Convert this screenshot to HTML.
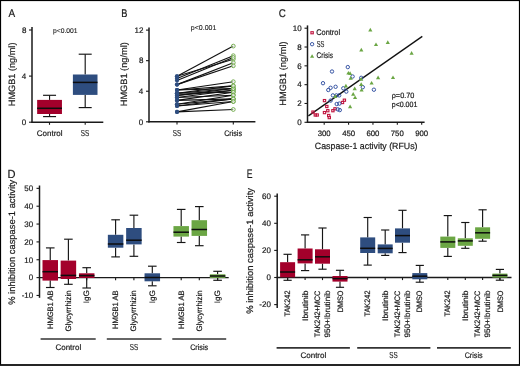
<!DOCTYPE html>
<html><head><meta charset="utf-8"><style>
html,body{margin:0;padding:0;background:#fff;}
body{width:520px;height:366px;overflow:hidden;}
svg{display:block;will-change:transform;}
text{font-family:"Liberation Sans", sans-serif;text-rendering:geometricPrecision;stroke:#1a1a1a;stroke-width:0.2px;}
</style></head><body>
<svg width="520" height="366" viewBox="0 0 520 366">
<rect x="0" y="0" width="520" height="366" fill="#fff"/>
<text x="8.48" y="17.10" font-size="11.2" fill="#1a1a1a" textLength="6.64" lengthAdjust="spacingAndGlyphs">A</text>
<line x1="32.00" y1="27.10" x2="32.00" y2="122.80" stroke="#1a1a1a" stroke-width="1.5"/>
<line x1="29.00" y1="30.00" x2="32.00" y2="30.00" stroke="#1a1a1a" stroke-width="1.1"/>
<text x="21.90" y="32.80" font-size="8" fill="#1a1a1a" textLength="4.45" lengthAdjust="spacingAndGlyphs">8</text>
<line x1="29.00" y1="76.10" x2="32.00" y2="76.10" stroke="#1a1a1a" stroke-width="1.1"/>
<text x="21.78" y="78.90" font-size="8" fill="#1a1a1a" textLength="4.45" lengthAdjust="spacingAndGlyphs">4</text>
<line x1="29.00" y1="122.20" x2="32.00" y2="122.20" stroke="#1a1a1a" stroke-width="1.1"/>
<text x="21.86" y="125.00" font-size="8" fill="#1a1a1a" textLength="4.45" lengthAdjust="spacingAndGlyphs">0</text>
<line x1="31.40" y1="122.20" x2="103.30" y2="122.20" stroke="#1a1a1a" stroke-width="1.5"/>
<line x1="49.50" y1="122.20" x2="49.50" y2="124.80" stroke="#1a1a1a" stroke-width="1.1"/>
<line x1="85.20" y1="122.20" x2="85.20" y2="124.80" stroke="#1a1a1a" stroke-width="1.1"/>
<line x1="49.55" y1="95.30" x2="49.55" y2="99.90" stroke="#151515" stroke-width="1.15"/>
<line x1="49.55" y1="114.00" x2="49.55" y2="116.60" stroke="#151515" stroke-width="1.15"/>
<line x1="43.05" y1="95.30" x2="56.05" y2="95.30" stroke="#151515" stroke-width="1.15"/>
<line x1="43.05" y1="116.60" x2="56.05" y2="116.60" stroke="#151515" stroke-width="1.15"/>
<rect x="37.15" y="99.90" width="24.80" height="14.10" fill="#a3002b"/>
<line x1="37.15" y1="108.30" x2="61.95" y2="108.30" stroke="#0d0d0d" stroke-width="1.5"/>
<line x1="85.20" y1="54.20" x2="85.20" y2="74.50" stroke="#151515" stroke-width="1.15"/>
<line x1="85.20" y1="94.90" x2="85.20" y2="107.60" stroke="#151515" stroke-width="1.15"/>
<line x1="78.70" y1="54.20" x2="91.70" y2="54.20" stroke="#151515" stroke-width="1.15"/>
<line x1="78.70" y1="107.60" x2="91.70" y2="107.60" stroke="#151515" stroke-width="1.15"/>
<rect x="72.90" y="74.50" width="24.60" height="20.40" fill="#2e4d7f"/>
<line x1="72.90" y1="82.40" x2="97.50" y2="82.40" stroke="#0d0d0d" stroke-width="1.5"/>
<text x="53.06" y="32.60" font-size="6.9" fill="#1a1a1a" textLength="24.47" lengthAdjust="spacingAndGlyphs" style="stroke-width:0.12px">p&lt;0.001</text>
<text transform="translate(15.30,106.25) rotate(-90)" x="0" y="0" font-size="9.2" fill="#1a1a1a" textLength="63.72" lengthAdjust="spacingAndGlyphs">HMGB1 (ng/ml)</text>
<text x="36.79" y="135.50" font-size="8" fill="#1a1a1a" textLength="25.75" lengthAdjust="spacingAndGlyphs">Control</text>
<text x="80.81" y="135.60" font-size="8.7" fill="#1a1a1a" textLength="8.49" lengthAdjust="spacingAndGlyphs" style="stroke-width:0.12px">SS</text>
<text x="121.34" y="17.10" font-size="11.2" fill="#1a1a1a" textLength="6.14" lengthAdjust="spacingAndGlyphs">B</text>
<line x1="149.00" y1="27.40" x2="149.00" y2="122.40" stroke="#1a1a1a" stroke-width="1.5"/>
<line x1="146.00" y1="121.80" x2="149.00" y2="121.80" stroke="#1a1a1a" stroke-width="1.1"/>
<text x="138.86" y="124.60" font-size="8" fill="#1a1a1a" textLength="4.45" lengthAdjust="spacingAndGlyphs">0</text>
<line x1="146.00" y1="91.23" x2="149.00" y2="91.23" stroke="#1a1a1a" stroke-width="1.1"/>
<text x="138.78" y="94.03" font-size="8" fill="#1a1a1a" textLength="4.45" lengthAdjust="spacingAndGlyphs">4</text>
<line x1="146.00" y1="60.67" x2="149.00" y2="60.67" stroke="#1a1a1a" stroke-width="1.1"/>
<text x="138.90" y="63.47" font-size="8" fill="#1a1a1a" textLength="4.45" lengthAdjust="spacingAndGlyphs">8</text>
<line x1="146.00" y1="30.10" x2="149.00" y2="30.10" stroke="#1a1a1a" stroke-width="1.1"/>
<text x="134.50" y="32.90" font-size="8" fill="#1a1a1a" textLength="8.90" lengthAdjust="spacingAndGlyphs">12</text>
<line x1="148.40" y1="121.80" x2="255.40" y2="121.80" stroke="#1a1a1a" stroke-width="1.5"/>
<line x1="177.00" y1="121.80" x2="177.00" y2="124.40" stroke="#1a1a1a" stroke-width="1.1"/>
<line x1="233.30" y1="121.80" x2="233.30" y2="124.40" stroke="#1a1a1a" stroke-width="1.1"/>
<line x1="177.00" y1="76.30" x2="233.30" y2="46.10" stroke="#111" stroke-width="1.15"/>
<line x1="177.00" y1="76.30" x2="233.30" y2="59.20" stroke="#111" stroke-width="1.15"/>
<line x1="177.00" y1="78.50" x2="233.30" y2="55.70" stroke="#111" stroke-width="1.15"/>
<line x1="177.00" y1="80.50" x2="233.30" y2="57.50" stroke="#111" stroke-width="1.15"/>
<line x1="177.00" y1="84.60" x2="233.30" y2="62.70" stroke="#111" stroke-width="1.15"/>
<line x1="177.00" y1="84.60" x2="233.30" y2="65.80" stroke="#111" stroke-width="1.15"/>
<line x1="177.00" y1="90.00" x2="233.30" y2="81.70" stroke="#111" stroke-width="1.15"/>
<line x1="177.00" y1="90.00" x2="233.30" y2="88.50" stroke="#111" stroke-width="1.15"/>
<line x1="177.00" y1="93.20" x2="233.30" y2="85.90" stroke="#111" stroke-width="1.15"/>
<line x1="177.00" y1="93.20" x2="233.30" y2="92.20" stroke="#111" stroke-width="1.15"/>
<line x1="177.00" y1="95.40" x2="233.30" y2="88.50" stroke="#111" stroke-width="1.15"/>
<line x1="177.00" y1="95.40" x2="233.30" y2="90.30" stroke="#111" stroke-width="1.15"/>
<line x1="177.00" y1="97.50" x2="233.30" y2="90.30" stroke="#111" stroke-width="1.15"/>
<line x1="177.00" y1="97.50" x2="233.30" y2="95.20" stroke="#111" stroke-width="1.15"/>
<line x1="177.00" y1="100.40" x2="233.30" y2="92.20" stroke="#111" stroke-width="1.15"/>
<line x1="177.00" y1="100.40" x2="233.30" y2="98.90" stroke="#111" stroke-width="1.15"/>
<line x1="177.00" y1="104.30" x2="233.30" y2="98.90" stroke="#111" stroke-width="1.15"/>
<line x1="177.00" y1="104.30" x2="233.30" y2="95.20" stroke="#111" stroke-width="1.15"/>
<line x1="177.00" y1="106.00" x2="233.30" y2="101.50" stroke="#111" stroke-width="1.15"/>
<line x1="177.00" y1="106.00" x2="233.30" y2="98.90" stroke="#111" stroke-width="1.15"/>
<line x1="177.00" y1="111.90" x2="233.30" y2="109.50" stroke="#111" stroke-width="1.15"/>
<line x1="177.00" y1="111.90" x2="233.30" y2="101.50" stroke="#111" stroke-width="1.15"/>
<line x1="177.00" y1="93.20" x2="233.30" y2="88.50" stroke="#111" stroke-width="1.15"/>
<line x1="177.00" y1="90.00" x2="233.30" y2="85.90" stroke="#111" stroke-width="1.15"/>
<circle cx="177" cy="76.3" r="2.05" fill="#2e4d7f"/>
<circle cx="177" cy="76.3" r="2.05" fill="#2e4d7f"/>
<circle cx="177" cy="78.5" r="2.05" fill="#2e4d7f"/>
<circle cx="177" cy="80.5" r="2.05" fill="#2e4d7f"/>
<circle cx="177" cy="84.6" r="2.05" fill="#2e4d7f"/>
<circle cx="177" cy="84.6" r="2.05" fill="#2e4d7f"/>
<circle cx="177" cy="90.0" r="2.05" fill="#2e4d7f"/>
<circle cx="177" cy="90.0" r="2.05" fill="#2e4d7f"/>
<circle cx="177" cy="93.2" r="2.05" fill="#2e4d7f"/>
<circle cx="177" cy="93.2" r="2.05" fill="#2e4d7f"/>
<circle cx="177" cy="95.4" r="2.05" fill="#2e4d7f"/>
<circle cx="177" cy="95.4" r="2.05" fill="#2e4d7f"/>
<circle cx="177" cy="97.5" r="2.05" fill="#2e4d7f"/>
<circle cx="177" cy="97.5" r="2.05" fill="#2e4d7f"/>
<circle cx="177" cy="100.4" r="2.05" fill="#2e4d7f"/>
<circle cx="177" cy="100.4" r="2.05" fill="#2e4d7f"/>
<circle cx="177" cy="104.3" r="2.05" fill="#2e4d7f"/>
<circle cx="177" cy="104.3" r="2.05" fill="#2e4d7f"/>
<circle cx="177" cy="106.0" r="2.05" fill="#2e4d7f"/>
<circle cx="177" cy="106.0" r="2.05" fill="#2e4d7f"/>
<circle cx="177" cy="111.9" r="2.05" fill="#2e4d7f"/>
<circle cx="177" cy="111.9" r="2.05" fill="#2e4d7f"/>
<circle cx="177" cy="93.2" r="2.05" fill="#2e4d7f"/>
<circle cx="177" cy="90.0" r="2.05" fill="#2e4d7f"/>
<circle cx="233.3" cy="46.1" r="1.9" fill="#fff" fill-opacity="0.5" stroke="#6ba644" stroke-width="0.9"/>
<circle cx="233.3" cy="59.2" r="1.9" fill="#fff" fill-opacity="0.5" stroke="#6ba644" stroke-width="0.9"/>
<circle cx="233.3" cy="55.7" r="1.9" fill="#fff" fill-opacity="0.5" stroke="#6ba644" stroke-width="0.9"/>
<circle cx="233.3" cy="57.5" r="1.9" fill="#fff" fill-opacity="0.5" stroke="#6ba644" stroke-width="0.9"/>
<circle cx="233.3" cy="62.7" r="1.9" fill="#fff" fill-opacity="0.5" stroke="#6ba644" stroke-width="0.9"/>
<circle cx="233.3" cy="65.8" r="1.9" fill="#fff" fill-opacity="0.5" stroke="#6ba644" stroke-width="0.9"/>
<circle cx="233.3" cy="81.7" r="1.9" fill="#fff" fill-opacity="0.5" stroke="#6ba644" stroke-width="0.9"/>
<circle cx="233.3" cy="88.5" r="1.9" fill="#fff" fill-opacity="0.5" stroke="#6ba644" stroke-width="0.9"/>
<circle cx="233.3" cy="85.9" r="1.9" fill="#fff" fill-opacity="0.5" stroke="#6ba644" stroke-width="0.9"/>
<circle cx="233.3" cy="92.2" r="1.9" fill="#fff" fill-opacity="0.5" stroke="#6ba644" stroke-width="0.9"/>
<circle cx="233.3" cy="88.5" r="1.9" fill="#fff" fill-opacity="0.5" stroke="#6ba644" stroke-width="0.9"/>
<circle cx="233.3" cy="90.3" r="1.9" fill="#fff" fill-opacity="0.5" stroke="#6ba644" stroke-width="0.9"/>
<circle cx="233.3" cy="90.3" r="1.9" fill="#fff" fill-opacity="0.5" stroke="#6ba644" stroke-width="0.9"/>
<circle cx="233.3" cy="95.2" r="1.9" fill="#fff" fill-opacity="0.5" stroke="#6ba644" stroke-width="0.9"/>
<circle cx="233.3" cy="92.2" r="1.9" fill="#fff" fill-opacity="0.5" stroke="#6ba644" stroke-width="0.9"/>
<circle cx="233.3" cy="98.9" r="1.9" fill="#fff" fill-opacity="0.5" stroke="#6ba644" stroke-width="0.9"/>
<circle cx="233.3" cy="98.9" r="1.9" fill="#fff" fill-opacity="0.5" stroke="#6ba644" stroke-width="0.9"/>
<circle cx="233.3" cy="95.2" r="1.9" fill="#fff" fill-opacity="0.5" stroke="#6ba644" stroke-width="0.9"/>
<circle cx="233.3" cy="101.5" r="1.9" fill="#fff" fill-opacity="0.5" stroke="#6ba644" stroke-width="0.9"/>
<circle cx="233.3" cy="98.9" r="1.9" fill="#fff" fill-opacity="0.5" stroke="#6ba644" stroke-width="0.9"/>
<circle cx="233.3" cy="109.5" r="1.9" fill="#fff" fill-opacity="0.5" stroke="#6ba644" stroke-width="0.9"/>
<circle cx="233.3" cy="101.5" r="1.9" fill="#fff" fill-opacity="0.5" stroke="#6ba644" stroke-width="0.9"/>
<circle cx="233.3" cy="88.5" r="1.9" fill="#fff" fill-opacity="0.5" stroke="#6ba644" stroke-width="0.9"/>
<circle cx="233.3" cy="85.9" r="1.9" fill="#fff" fill-opacity="0.5" stroke="#6ba644" stroke-width="0.9"/>
<text x="190.84" y="30.00" font-size="7.0" fill="#1a1a1a" textLength="25.50" lengthAdjust="spacingAndGlyphs" style="stroke-width:0.12px">p&lt;0.001</text>
<text transform="translate(127.40,106.26) rotate(-90)" x="0" y="0" font-size="9.2" fill="#1a1a1a" textLength="64.03" lengthAdjust="spacingAndGlyphs">HMGB1 (ng/ml)</text>
<text x="172.81" y="135.60" font-size="8.7" fill="#1a1a1a" textLength="8.49" lengthAdjust="spacingAndGlyphs" style="stroke-width:0.12px">SS</text>
<text x="224.13" y="135.80" font-size="8" fill="#1a1a1a" textLength="17.92" lengthAdjust="spacingAndGlyphs">Crisis</text>
<text x="278.80" y="17.20" font-size="11.2" fill="#1a1a1a" textLength="7.07" lengthAdjust="spacingAndGlyphs">C</text>
<line x1="307.50" y1="25.40" x2="307.50" y2="122.90" stroke="#1a1a1a" stroke-width="1.5"/>
<line x1="304.50" y1="122.30" x2="307.50" y2="122.30" stroke="#1a1a1a" stroke-width="1.1"/>
<text x="297.26" y="125.10" font-size="8" fill="#1a1a1a" textLength="4.45" lengthAdjust="spacingAndGlyphs">0</text>
<line x1="304.50" y1="103.48" x2="307.50" y2="103.48" stroke="#1a1a1a" stroke-width="1.1"/>
<text x="297.35" y="106.28" font-size="8" fill="#1a1a1a" textLength="4.45" lengthAdjust="spacingAndGlyphs">2</text>
<line x1="304.50" y1="84.66" x2="307.50" y2="84.66" stroke="#1a1a1a" stroke-width="1.1"/>
<text x="297.18" y="87.46" font-size="8" fill="#1a1a1a" textLength="4.45" lengthAdjust="spacingAndGlyphs">4</text>
<line x1="304.50" y1="65.84" x2="307.50" y2="65.84" stroke="#1a1a1a" stroke-width="1.1"/>
<text x="297.30" y="68.64" font-size="8" fill="#1a1a1a" textLength="4.45" lengthAdjust="spacingAndGlyphs">6</text>
<line x1="304.50" y1="47.02" x2="307.50" y2="47.02" stroke="#1a1a1a" stroke-width="1.1"/>
<text x="297.30" y="49.82" font-size="8" fill="#1a1a1a" textLength="4.45" lengthAdjust="spacingAndGlyphs">8</text>
<line x1="304.50" y1="28.20" x2="307.50" y2="28.20" stroke="#1a1a1a" stroke-width="1.1"/>
<text x="292.82" y="31.00" font-size="8" fill="#1a1a1a" textLength="8.90" lengthAdjust="spacingAndGlyphs">10</text>
<line x1="306.90" y1="122.30" x2="424.60" y2="122.30" stroke="#1a1a1a" stroke-width="1.5"/>
<line x1="324.20" y1="122.30" x2="324.20" y2="124.80" stroke="#1a1a1a" stroke-width="1.1"/>
<text x="317.70" y="135.50" font-size="7.8" fill="#1a1a1a" textLength="13.01" lengthAdjust="spacingAndGlyphs">300</text>
<line x1="348.57" y1="122.30" x2="348.57" y2="124.80" stroke="#1a1a1a" stroke-width="1.1"/>
<text x="342.13" y="135.50" font-size="7.8" fill="#1a1a1a" textLength="13.01" lengthAdjust="spacingAndGlyphs">450</text>
<line x1="372.95" y1="122.30" x2="372.95" y2="124.80" stroke="#1a1a1a" stroke-width="1.1"/>
<text x="366.40" y="135.50" font-size="7.8" fill="#1a1a1a" textLength="13.01" lengthAdjust="spacingAndGlyphs">600</text>
<line x1="397.32" y1="122.30" x2="397.32" y2="124.80" stroke="#1a1a1a" stroke-width="1.1"/>
<text x="390.77" y="135.50" font-size="7.8" fill="#1a1a1a" textLength="13.01" lengthAdjust="spacingAndGlyphs">750</text>
<line x1="421.70" y1="122.30" x2="421.70" y2="124.80" stroke="#1a1a1a" stroke-width="1.1"/>
<text x="415.16" y="135.50" font-size="7.8" fill="#1a1a1a" textLength="13.01" lengthAdjust="spacingAndGlyphs">900</text>
<text x="314.85" y="148.60" font-size="9.1" fill="#1a1a1a" textLength="102.69" lengthAdjust="spacingAndGlyphs">Caspase-1 activity (RFUs)</text>
<text transform="translate(285.80,105.76) rotate(-90)" x="0" y="0" font-size="9.2" fill="#1a1a1a" textLength="64.34" lengthAdjust="spacingAndGlyphs">HMGB1 (ng/ml)</text>
<line x1="308.40" y1="115.90" x2="422.30" y2="36.40" stroke="#111" stroke-width="1.3"/>
<rect x="323.35" y="99.50" width="2.3" height="2.2" fill="none" stroke="#c0143f" stroke-width="1.1"/>
<rect x="325.65" y="105.40" width="2.3" height="2.2" fill="none" stroke="#c0143f" stroke-width="1.1"/>
<rect x="326.65" y="109.60" width="2.3" height="2.2" fill="none" stroke="#c0143f" stroke-width="1.1"/>
<rect x="323.35" y="111.50" width="2.3" height="2.2" fill="none" stroke="#c0143f" stroke-width="1.1"/>
<rect x="331.75" y="109.60" width="2.3" height="2.2" fill="none" stroke="#c0143f" stroke-width="1.1"/>
<rect x="333.85" y="107.70" width="2.3" height="2.2" fill="none" stroke="#c0143f" stroke-width="1.1"/>
<rect x="341.35" y="101.40" width="2.3" height="2.2" fill="none" stroke="#c0143f" stroke-width="1.1"/>
<rect x="343.25" y="99.10" width="2.3" height="2.2" fill="none" stroke="#c0143f" stroke-width="1.1"/>
<rect x="311.85" y="111.00" width="2.3" height="2.2" fill="none" stroke="#c0143f" stroke-width="1.1"/>
<rect x="314.15" y="113.90" width="2.3" height="2.2" fill="none" stroke="#c0143f" stroke-width="1.1"/>
<rect x="316.05" y="113.90" width="2.3" height="2.2" fill="none" stroke="#c0143f" stroke-width="1.1"/>
<rect x="327.55" y="114.40" width="2.3" height="2.2" fill="none" stroke="#c0143f" stroke-width="1.1"/>
<rect x="328.15" y="116.50" width="2.3" height="2.2" fill="none" stroke="#c0143f" stroke-width="1.1"/>
<circle cx="332.0" cy="71.5" r="1.7" fill="none" stroke="#2e4d9f" stroke-width="0.95"/>
<circle cx="347.8" cy="67.1" r="1.7" fill="none" stroke="#2e4d9f" stroke-width="0.95"/>
<circle cx="323.0" cy="83.2" r="1.7" fill="none" stroke="#2e4d9f" stroke-width="0.95"/>
<circle cx="352.6" cy="76.5" r="1.7" fill="none" stroke="#2e4d9f" stroke-width="0.95"/>
<circle cx="361.2" cy="77.8" r="1.7" fill="none" stroke="#2e4d9f" stroke-width="0.95"/>
<circle cx="330.6" cy="87.8" r="1.7" fill="none" stroke="#2e4d9f" stroke-width="0.95"/>
<circle cx="328.3" cy="90.0" r="1.7" fill="none" stroke="#2e4d9f" stroke-width="0.95"/>
<circle cx="335.6" cy="86.8" r="1.7" fill="none" stroke="#2e4d9f" stroke-width="0.95"/>
<circle cx="343.3" cy="88.3" r="1.7" fill="none" stroke="#2e4d9f" stroke-width="0.95"/>
<circle cx="346.3" cy="91.6" r="1.7" fill="none" stroke="#2e4d9f" stroke-width="0.95"/>
<circle cx="332.9" cy="95.4" r="1.7" fill="none" stroke="#2e4d9f" stroke-width="0.95"/>
<circle cx="336.4" cy="95.4" r="1.7" fill="none" stroke="#2e4d9f" stroke-width="0.95"/>
<circle cx="339.2" cy="95.4" r="1.7" fill="none" stroke="#2e4d9f" stroke-width="0.95"/>
<circle cx="330.6" cy="100.6" r="1.7" fill="none" stroke="#2e4d9f" stroke-width="0.95"/>
<circle cx="336.7" cy="104.0" r="1.7" fill="none" stroke="#2e4d9f" stroke-width="0.95"/>
<circle cx="339.4" cy="103.6" r="1.7" fill="none" stroke="#2e4d9f" stroke-width="0.95"/>
<circle cx="337.9" cy="109.4" r="1.7" fill="none" stroke="#2e4d9f" stroke-width="0.95"/>
<circle cx="339.8" cy="110.1" r="1.7" fill="none" stroke="#2e4d9f" stroke-width="0.95"/>
<circle cx="362.8" cy="87.2" r="1.7" fill="none" stroke="#2e4d9f" stroke-width="0.95"/>
<circle cx="373.9" cy="89.7" r="1.7" fill="none" stroke="#2e4d9f" stroke-width="0.95"/>
<path d="M348.40 70.90 L350.50 74.60 L346.30 74.60Z" fill="#6ba644"/>
<path d="M350.10 71.30 L352.20 75.00 L348.00 75.00Z" fill="#6ba644"/>
<path d="M350.70 76.10 L352.80 79.80 L348.60 79.80Z" fill="#6ba644"/>
<path d="M361.20 77.00 L363.30 80.70 L359.10 80.70Z" fill="#6ba644"/>
<path d="M345.90 83.70 L348.00 87.40 L343.80 87.40Z" fill="#6ba644"/>
<path d="M354.70 86.60 L356.80 90.30 L352.60 90.30Z" fill="#6ba644"/>
<path d="M361.20 82.20 L363.30 85.90 L359.10 85.90Z" fill="#6ba644"/>
<path d="M361.60 87.90 L363.70 91.60 L359.50 91.60Z" fill="#6ba644"/>
<path d="M371.60 80.90 L373.70 84.60 L369.50 84.60Z" fill="#6ba644"/>
<path d="M378.10 75.50 L380.20 79.20 L376.00 79.20Z" fill="#6ba644"/>
<path d="M353.20 92.00 L355.30 95.70 L351.10 95.70Z" fill="#6ba644"/>
<path d="M355.10 95.40 L357.20 99.10 L353.00 99.10Z" fill="#6ba644"/>
<path d="M335.20 94.30 L337.30 98.00 L333.10 98.00Z" fill="#6ba644"/>
<path d="M350.10 104.60 L352.20 108.30 L348.00 108.30Z" fill="#6ba644"/>
<path d="M370.30 27.70 L372.40 31.40 L368.20 31.40Z" fill="#6ba644"/>
<path d="M376.00 42.40 L378.10 46.10 L373.90 46.10Z" fill="#6ba644"/>
<path d="M387.80 40.20 L389.90 43.90 L385.70 43.90Z" fill="#6ba644"/>
<path d="M361.30 47.80 L363.40 51.50 L359.20 51.50Z" fill="#6ba644"/>
<path d="M411.60 51.10 L413.70 54.80 L409.50 54.80Z" fill="#6ba644"/>
<path d="M393.00 75.40 L395.10 79.10 L390.90 79.10Z" fill="#6ba644"/>
<rect x="310.9" y="31.7" width="2.4" height="2.1" fill="none" stroke="#c0143f" stroke-width="1.1"/>
<circle cx="312.1" cy="44.2" r="1.7" fill="none" stroke="#2e4d9f" stroke-width="0.95"/>
<path d="M312.1 54.2 L314.2 57.8 L310 57.8Z" fill="#6ba644"/>
<text x="316.22" y="35.00" font-size="8.1" fill="#1a1a1a" textLength="23.88" lengthAdjust="spacingAndGlyphs">Control</text>
<text x="316.63" y="46.70" font-size="8.7" fill="#1a1a1a" textLength="7.73" lengthAdjust="spacingAndGlyphs" style="stroke-width:0.12px">SS</text>
<text x="316.57" y="58.30" font-size="8.1" fill="#1a1a1a" textLength="16.37" lengthAdjust="spacingAndGlyphs">Crisis</text>
<text x="391.73" y="98.00" font-size="7.6" fill="#1a1a1a" textLength="22.65" lengthAdjust="spacingAndGlyphs">ρ=0.70</text>
<text x="391.74" y="106.80" font-size="7.6" fill="#1a1a1a" textLength="25.61" lengthAdjust="spacingAndGlyphs">p&lt;0.001</text>
<text x="7.59" y="177.60" font-size="11.7" fill="#1a1a1a" textLength="8.05" lengthAdjust="spacingAndGlyphs">D</text>
<line x1="39.50" y1="185.50" x2="39.50" y2="297.80" stroke="#1a1a1a" stroke-width="1.5"/>
<line x1="36.50" y1="295.45" x2="39.50" y2="295.45" stroke="#1a1a1a" stroke-width="1.1"/>
<text x="21.65" y="298.25" font-size="8" fill="#1a1a1a" textLength="11.56" lengthAdjust="spacingAndGlyphs">-10</text>
<line x1="36.50" y1="277.60" x2="39.50" y2="277.60" stroke="#1a1a1a" stroke-width="1.1"/>
<text x="28.76" y="280.40" font-size="8" fill="#1a1a1a" textLength="4.45" lengthAdjust="spacingAndGlyphs">0</text>
<line x1="36.50" y1="259.75" x2="39.50" y2="259.75" stroke="#1a1a1a" stroke-width="1.1"/>
<text x="24.32" y="262.55" font-size="8" fill="#1a1a1a" textLength="8.90" lengthAdjust="spacingAndGlyphs">10</text>
<line x1="36.50" y1="241.90" x2="39.50" y2="241.90" stroke="#1a1a1a" stroke-width="1.1"/>
<text x="24.32" y="244.70" font-size="8" fill="#1a1a1a" textLength="8.90" lengthAdjust="spacingAndGlyphs">20</text>
<line x1="36.50" y1="224.05" x2="39.50" y2="224.05" stroke="#1a1a1a" stroke-width="1.1"/>
<text x="24.32" y="226.85" font-size="8" fill="#1a1a1a" textLength="8.90" lengthAdjust="spacingAndGlyphs">30</text>
<line x1="36.50" y1="206.20" x2="39.50" y2="206.20" stroke="#1a1a1a" stroke-width="1.1"/>
<text x="24.32" y="209.00" font-size="8" fill="#1a1a1a" textLength="8.90" lengthAdjust="spacingAndGlyphs">40</text>
<line x1="36.50" y1="188.35" x2="39.50" y2="188.35" stroke="#1a1a1a" stroke-width="1.1"/>
<text x="24.32" y="191.15" font-size="8" fill="#1a1a1a" textLength="8.90" lengthAdjust="spacingAndGlyphs">50</text>
<line x1="39.00" y1="277.60" x2="228.70" y2="277.60" stroke="#1a1a1a" stroke-width="1.4"/>
<line x1="50.25" y1="277.60" x2="50.25" y2="280.20" stroke="#1a1a1a" stroke-width="1.1"/>
<line x1="68.40" y1="277.60" x2="68.40" y2="280.20" stroke="#1a1a1a" stroke-width="1.1"/>
<line x1="86.70" y1="277.60" x2="86.70" y2="280.20" stroke="#1a1a1a" stroke-width="1.1"/>
<line x1="115.60" y1="277.60" x2="115.60" y2="280.20" stroke="#1a1a1a" stroke-width="1.1"/>
<line x1="133.90" y1="277.60" x2="133.90" y2="280.20" stroke="#1a1a1a" stroke-width="1.1"/>
<line x1="152.30" y1="277.60" x2="152.30" y2="280.20" stroke="#1a1a1a" stroke-width="1.1"/>
<line x1="181.20" y1="277.60" x2="181.20" y2="280.20" stroke="#1a1a1a" stroke-width="1.1"/>
<line x1="199.30" y1="277.60" x2="199.30" y2="280.20" stroke="#1a1a1a" stroke-width="1.1"/>
<line x1="217.60" y1="277.60" x2="217.60" y2="280.20" stroke="#1a1a1a" stroke-width="1.1"/>
<line x1="50.25" y1="247.90" x2="50.25" y2="260.10" stroke="#151515" stroke-width="1.15"/>
<line x1="50.25" y1="280.60" x2="50.25" y2="287.50" stroke="#151515" stroke-width="1.15"/>
<line x1="45.95" y1="247.90" x2="54.55" y2="247.90" stroke="#151515" stroke-width="1.15"/>
<line x1="45.95" y1="287.50" x2="54.55" y2="287.50" stroke="#151515" stroke-width="1.15"/>
<rect x="42.50" y="260.10" width="15.50" height="20.50" fill="#a3002b"/>
<line x1="42.50" y1="271.70" x2="58.00" y2="271.70" stroke="#0d0d0d" stroke-width="1.5"/>
<line x1="68.40" y1="239.20" x2="68.40" y2="260.60" stroke="#151515" stroke-width="1.15"/>
<line x1="68.40" y1="279.00" x2="68.40" y2="284.30" stroke="#151515" stroke-width="1.15"/>
<line x1="64.10" y1="239.20" x2="72.70" y2="239.20" stroke="#151515" stroke-width="1.15"/>
<line x1="64.10" y1="284.30" x2="72.70" y2="284.30" stroke="#151515" stroke-width="1.15"/>
<rect x="60.65" y="260.60" width="15.50" height="18.40" fill="#a3002b"/>
<line x1="60.65" y1="275.40" x2="76.15" y2="275.40" stroke="#0d0d0d" stroke-width="1.5"/>
<line x1="86.70" y1="267.70" x2="86.70" y2="273.30" stroke="#151515" stroke-width="1.15"/>
<line x1="86.70" y1="278.00" x2="86.70" y2="288.00" stroke="#151515" stroke-width="1.15"/>
<line x1="82.40" y1="267.70" x2="91.00" y2="267.70" stroke="#151515" stroke-width="1.15"/>
<line x1="82.40" y1="288.00" x2="91.00" y2="288.00" stroke="#151515" stroke-width="1.15"/>
<rect x="78.95" y="273.30" width="15.50" height="4.70" fill="#a3002b"/>
<line x1="78.95" y1="275.60" x2="94.45" y2="275.60" stroke="#0d0d0d" stroke-width="1.5"/>
<line x1="115.60" y1="219.80" x2="115.60" y2="234.80" stroke="#151515" stroke-width="1.15"/>
<line x1="115.60" y1="247.70" x2="115.60" y2="256.90" stroke="#151515" stroke-width="1.15"/>
<line x1="111.30" y1="219.80" x2="119.90" y2="219.80" stroke="#151515" stroke-width="1.15"/>
<line x1="111.30" y1="256.90" x2="119.90" y2="256.90" stroke="#151515" stroke-width="1.15"/>
<rect x="107.85" y="234.80" width="15.50" height="12.90" fill="#2e4d7f"/>
<line x1="107.85" y1="244.00" x2="123.35" y2="244.00" stroke="#0d0d0d" stroke-width="1.5"/>
<line x1="133.90" y1="215.20" x2="133.90" y2="228.00" stroke="#151515" stroke-width="1.15"/>
<line x1="133.90" y1="244.40" x2="133.90" y2="256.30" stroke="#151515" stroke-width="1.15"/>
<line x1="129.60" y1="215.20" x2="138.20" y2="215.20" stroke="#151515" stroke-width="1.15"/>
<line x1="129.60" y1="256.30" x2="138.20" y2="256.30" stroke="#151515" stroke-width="1.15"/>
<rect x="126.15" y="228.00" width="15.50" height="16.40" fill="#2e4d7f"/>
<line x1="126.15" y1="240.20" x2="141.65" y2="240.20" stroke="#0d0d0d" stroke-width="1.5"/>
<line x1="152.30" y1="266.20" x2="152.30" y2="273.30" stroke="#151515" stroke-width="1.15"/>
<line x1="152.30" y1="281.30" x2="152.30" y2="285.80" stroke="#151515" stroke-width="1.15"/>
<line x1="148.00" y1="266.20" x2="156.60" y2="266.20" stroke="#151515" stroke-width="1.15"/>
<line x1="148.00" y1="285.80" x2="156.60" y2="285.80" stroke="#151515" stroke-width="1.15"/>
<rect x="144.55" y="273.30" width="15.50" height="8.00" fill="#2e4d7f"/>
<line x1="144.55" y1="277.50" x2="160.05" y2="277.50" stroke="#0d0d0d" stroke-width="1.5"/>
<line x1="181.20" y1="209.40" x2="181.20" y2="226.10" stroke="#151515" stroke-width="1.15"/>
<line x1="181.20" y1="236.60" x2="181.20" y2="242.50" stroke="#151515" stroke-width="1.15"/>
<line x1="176.90" y1="209.40" x2="185.50" y2="209.40" stroke="#151515" stroke-width="1.15"/>
<line x1="176.90" y1="242.50" x2="185.50" y2="242.50" stroke="#151515" stroke-width="1.15"/>
<rect x="173.45" y="226.10" width="15.50" height="10.50" fill="#6ba644"/>
<line x1="173.45" y1="232.20" x2="188.95" y2="232.20" stroke="#0d0d0d" stroke-width="1.5"/>
<line x1="199.30" y1="206.60" x2="199.30" y2="220.20" stroke="#151515" stroke-width="1.15"/>
<line x1="199.30" y1="235.90" x2="199.30" y2="245.70" stroke="#151515" stroke-width="1.15"/>
<line x1="195.00" y1="206.60" x2="203.60" y2="206.60" stroke="#151515" stroke-width="1.15"/>
<line x1="195.00" y1="245.70" x2="203.60" y2="245.70" stroke="#151515" stroke-width="1.15"/>
<rect x="191.55" y="220.20" width="15.50" height="15.70" fill="#6ba644"/>
<line x1="191.55" y1="229.50" x2="207.05" y2="229.50" stroke="#0d0d0d" stroke-width="1.5"/>
<line x1="217.60" y1="271.30" x2="217.60" y2="274.30" stroke="#151515" stroke-width="1.15"/>
<line x1="217.60" y1="277.90" x2="217.60" y2="280.30" stroke="#151515" stroke-width="1.15"/>
<line x1="213.30" y1="271.30" x2="221.90" y2="271.30" stroke="#151515" stroke-width="1.15"/>
<line x1="213.30" y1="280.30" x2="221.90" y2="280.30" stroke="#151515" stroke-width="1.15"/>
<rect x="209.85" y="274.30" width="15.50" height="3.60" fill="#6ba644"/>
<line x1="209.85" y1="276.00" x2="225.35" y2="276.00" stroke="#0d0d0d" stroke-width="1.5"/>
<text transform="translate(52.75,329.02) rotate(-90)" x="0" y="0" font-size="7.9" fill="#1a1a1a" textLength="38.52" lengthAdjust="spacingAndGlyphs">HMGB1 AB</text>
<text transform="translate(70.90,331.49) rotate(-90)" x="0" y="0" font-size="7.9" fill="#1a1a1a" textLength="41.10" lengthAdjust="spacingAndGlyphs">Glycyrrhizin</text>
<text transform="translate(89.20,303.24) rotate(-90)" x="0" y="0" font-size="7.9" fill="#1a1a1a" textLength="12.94" lengthAdjust="spacingAndGlyphs">IgG</text>
<text transform="translate(118.10,329.02) rotate(-90)" x="0" y="0" font-size="7.9" fill="#1a1a1a" textLength="38.52" lengthAdjust="spacingAndGlyphs">HMGB1 AB</text>
<text transform="translate(136.40,331.49) rotate(-90)" x="0" y="0" font-size="7.9" fill="#1a1a1a" textLength="41.10" lengthAdjust="spacingAndGlyphs">Glycyrrhizin</text>
<text transform="translate(154.80,303.24) rotate(-90)" x="0" y="0" font-size="7.9" fill="#1a1a1a" textLength="12.94" lengthAdjust="spacingAndGlyphs">IgG</text>
<text transform="translate(183.70,329.02) rotate(-90)" x="0" y="0" font-size="7.9" fill="#1a1a1a" textLength="38.52" lengthAdjust="spacingAndGlyphs">HMGB1 AB</text>
<text transform="translate(201.80,331.49) rotate(-90)" x="0" y="0" font-size="7.9" fill="#1a1a1a" textLength="41.10" lengthAdjust="spacingAndGlyphs">Glycyrrhizin</text>
<text transform="translate(220.10,303.24) rotate(-90)" x="0" y="0" font-size="7.9" fill="#1a1a1a" textLength="12.94" lengthAdjust="spacingAndGlyphs">IgG</text>
<text transform="translate(15.10,304.84) rotate(-90)" x="0" y="0" font-size="9.35" fill="#1a1a1a" textLength="125.16" lengthAdjust="spacingAndGlyphs">% inhibition caspase-1 activity</text>
<line x1="40.60" y1="339.00" x2="95.70" y2="339.00" stroke="#333" stroke-width="1.6"/>
<line x1="106.80" y1="339.00" x2="161.50" y2="339.00" stroke="#333" stroke-width="1.6"/>
<line x1="172.30" y1="339.00" x2="226.20" y2="339.00" stroke="#333" stroke-width="1.6"/>
<text x="55.54" y="349.50" font-size="8" fill="#1a1a1a" textLength="25.64" lengthAdjust="spacingAndGlyphs">Control</text>
<text x="129.76" y="349.50" font-size="8.7" fill="#1a1a1a" textLength="8.49" lengthAdjust="spacingAndGlyphs" style="stroke-width:0.12px">SS</text>
<text x="190.18" y="349.50" font-size="8" fill="#1a1a1a" textLength="17.92" lengthAdjust="spacingAndGlyphs">Crisis</text>
<text x="246.69" y="177.90" font-size="12.3" fill="#1a1a1a" textLength="5.78" lengthAdjust="spacingAndGlyphs">E</text>
<line x1="277.20" y1="193.40" x2="277.20" y2="307.90" stroke="#1a1a1a" stroke-width="1.5"/>
<line x1="274.20" y1="304.60" x2="277.20" y2="304.60" stroke="#1a1a1a" stroke-width="1.1"/>
<text x="259.35" y="307.40" font-size="8" fill="#1a1a1a" textLength="11.56" lengthAdjust="spacingAndGlyphs">-20</text>
<line x1="274.20" y1="277.50" x2="277.20" y2="277.50" stroke="#1a1a1a" stroke-width="1.1"/>
<text x="266.46" y="280.30" font-size="8" fill="#1a1a1a" textLength="4.45" lengthAdjust="spacingAndGlyphs">0</text>
<line x1="274.20" y1="250.40" x2="277.20" y2="250.40" stroke="#1a1a1a" stroke-width="1.1"/>
<text x="262.02" y="253.20" font-size="8" fill="#1a1a1a" textLength="8.90" lengthAdjust="spacingAndGlyphs">20</text>
<line x1="274.20" y1="223.30" x2="277.20" y2="223.30" stroke="#1a1a1a" stroke-width="1.1"/>
<text x="262.02" y="226.10" font-size="8" fill="#1a1a1a" textLength="8.90" lengthAdjust="spacingAndGlyphs">40</text>
<line x1="274.20" y1="196.20" x2="277.20" y2="196.20" stroke="#1a1a1a" stroke-width="1.1"/>
<text x="262.02" y="199.00" font-size="8" fill="#1a1a1a" textLength="8.90" lengthAdjust="spacingAndGlyphs">60</text>
<line x1="276.70" y1="277.50" x2="511.50" y2="277.50" stroke="#1a1a1a" stroke-width="1.4"/>
<line x1="287.60" y1="277.50" x2="287.60" y2="280.10" stroke="#1a1a1a" stroke-width="1.1"/>
<line x1="305.10" y1="277.50" x2="305.10" y2="280.10" stroke="#1a1a1a" stroke-width="1.1"/>
<line x1="322.50" y1="277.50" x2="322.50" y2="280.10" stroke="#1a1a1a" stroke-width="1.1"/>
<line x1="340.00" y1="277.50" x2="340.00" y2="280.10" stroke="#1a1a1a" stroke-width="1.1"/>
<line x1="367.70" y1="277.50" x2="367.70" y2="280.10" stroke="#1a1a1a" stroke-width="1.1"/>
<line x1="385.20" y1="277.50" x2="385.20" y2="280.10" stroke="#1a1a1a" stroke-width="1.1"/>
<line x1="402.50" y1="277.50" x2="402.50" y2="280.10" stroke="#1a1a1a" stroke-width="1.1"/>
<line x1="419.80" y1="277.50" x2="419.80" y2="280.10" stroke="#1a1a1a" stroke-width="1.1"/>
<line x1="447.80" y1="277.50" x2="447.80" y2="280.10" stroke="#1a1a1a" stroke-width="1.1"/>
<line x1="465.30" y1="277.50" x2="465.30" y2="280.10" stroke="#1a1a1a" stroke-width="1.1"/>
<line x1="482.60" y1="277.50" x2="482.60" y2="280.10" stroke="#1a1a1a" stroke-width="1.1"/>
<line x1="499.90" y1="277.50" x2="499.90" y2="280.10" stroke="#1a1a1a" stroke-width="1.1"/>
<line x1="287.60" y1="254.30" x2="287.60" y2="262.20" stroke="#151515" stroke-width="1.15"/>
<line x1="287.60" y1="277.30" x2="287.60" y2="280.30" stroke="#151515" stroke-width="1.15"/>
<line x1="283.50" y1="254.30" x2="291.70" y2="254.30" stroke="#151515" stroke-width="1.15"/>
<line x1="283.50" y1="280.30" x2="291.70" y2="280.30" stroke="#151515" stroke-width="1.15"/>
<rect x="280.10" y="262.20" width="15.00" height="15.10" fill="#a3002b"/>
<line x1="280.10" y1="272.00" x2="295.10" y2="272.00" stroke="#0d0d0d" stroke-width="1.5"/>
<line x1="305.10" y1="234.90" x2="305.10" y2="248.50" stroke="#151515" stroke-width="1.15"/>
<line x1="305.10" y1="263.40" x2="305.10" y2="270.60" stroke="#151515" stroke-width="1.15"/>
<line x1="301.00" y1="234.90" x2="309.20" y2="234.90" stroke="#151515" stroke-width="1.15"/>
<line x1="301.00" y1="270.60" x2="309.20" y2="270.60" stroke="#151515" stroke-width="1.15"/>
<rect x="297.60" y="248.50" width="15.00" height="14.90" fill="#a3002b"/>
<line x1="297.60" y1="259.80" x2="312.60" y2="259.80" stroke="#0d0d0d" stroke-width="1.5"/>
<line x1="322.50" y1="228.00" x2="322.50" y2="249.30" stroke="#151515" stroke-width="1.15"/>
<line x1="322.50" y1="263.70" x2="322.50" y2="269.20" stroke="#151515" stroke-width="1.15"/>
<line x1="318.40" y1="228.00" x2="326.60" y2="228.00" stroke="#151515" stroke-width="1.15"/>
<line x1="318.40" y1="269.20" x2="326.60" y2="269.20" stroke="#151515" stroke-width="1.15"/>
<rect x="315.00" y="249.30" width="15.00" height="14.40" fill="#a3002b"/>
<line x1="315.00" y1="256.80" x2="330.00" y2="256.80" stroke="#0d0d0d" stroke-width="1.5"/>
<line x1="340.00" y1="270.30" x2="340.00" y2="276.00" stroke="#151515" stroke-width="1.15"/>
<line x1="340.00" y1="281.60" x2="340.00" y2="287.30" stroke="#151515" stroke-width="1.15"/>
<line x1="335.90" y1="270.30" x2="344.10" y2="270.30" stroke="#151515" stroke-width="1.15"/>
<line x1="335.90" y1="287.30" x2="344.10" y2="287.30" stroke="#151515" stroke-width="1.15"/>
<rect x="332.50" y="276.00" width="15.00" height="5.60" fill="#a3002b"/>
<line x1="332.50" y1="278.60" x2="347.50" y2="278.60" stroke="#0d0d0d" stroke-width="1.5"/>
<line x1="367.70" y1="217.50" x2="367.70" y2="237.40" stroke="#151515" stroke-width="1.15"/>
<line x1="367.70" y1="253.00" x2="367.70" y2="265.10" stroke="#151515" stroke-width="1.15"/>
<line x1="363.60" y1="217.50" x2="371.80" y2="217.50" stroke="#151515" stroke-width="1.15"/>
<line x1="363.60" y1="265.10" x2="371.80" y2="265.10" stroke="#151515" stroke-width="1.15"/>
<rect x="360.20" y="237.40" width="15.00" height="15.60" fill="#2e4d7f"/>
<line x1="360.20" y1="248.30" x2="375.20" y2="248.30" stroke="#0d0d0d" stroke-width="1.5"/>
<line x1="385.20" y1="230.00" x2="385.20" y2="244.40" stroke="#151515" stroke-width="1.15"/>
<line x1="385.20" y1="253.30" x2="385.20" y2="255.40" stroke="#151515" stroke-width="1.15"/>
<line x1="381.10" y1="230.00" x2="389.30" y2="230.00" stroke="#151515" stroke-width="1.15"/>
<line x1="381.10" y1="255.40" x2="389.30" y2="255.40" stroke="#151515" stroke-width="1.15"/>
<rect x="377.70" y="244.40" width="15.00" height="8.90" fill="#2e4d7f"/>
<line x1="377.70" y1="248.40" x2="392.70" y2="248.40" stroke="#0d0d0d" stroke-width="1.5"/>
<line x1="402.50" y1="210.30" x2="402.50" y2="228.40" stroke="#151515" stroke-width="1.15"/>
<line x1="402.50" y1="242.70" x2="402.50" y2="252.60" stroke="#151515" stroke-width="1.15"/>
<line x1="398.40" y1="210.30" x2="406.60" y2="210.30" stroke="#151515" stroke-width="1.15"/>
<line x1="398.40" y1="252.60" x2="406.60" y2="252.60" stroke="#151515" stroke-width="1.15"/>
<rect x="395.00" y="228.40" width="15.00" height="14.30" fill="#2e4d7f"/>
<line x1="395.00" y1="235.60" x2="410.00" y2="235.60" stroke="#0d0d0d" stroke-width="1.5"/>
<line x1="419.80" y1="265.40" x2="419.80" y2="273.10" stroke="#151515" stroke-width="1.15"/>
<line x1="419.80" y1="279.30" x2="419.80" y2="282.20" stroke="#151515" stroke-width="1.15"/>
<line x1="415.70" y1="265.40" x2="423.90" y2="265.40" stroke="#151515" stroke-width="1.15"/>
<line x1="415.70" y1="282.20" x2="423.90" y2="282.20" stroke="#151515" stroke-width="1.15"/>
<rect x="412.30" y="273.10" width="15.00" height="6.20" fill="#2e4d7f"/>
<line x1="412.30" y1="276.20" x2="427.30" y2="276.20" stroke="#0d0d0d" stroke-width="1.5"/>
<line x1="447.80" y1="215.60" x2="447.80" y2="236.60" stroke="#151515" stroke-width="1.15"/>
<line x1="447.80" y1="247.90" x2="447.80" y2="256.40" stroke="#151515" stroke-width="1.15"/>
<line x1="443.70" y1="215.60" x2="451.90" y2="215.60" stroke="#151515" stroke-width="1.15"/>
<line x1="443.70" y1="256.40" x2="451.90" y2="256.40" stroke="#151515" stroke-width="1.15"/>
<rect x="440.30" y="236.60" width="15.00" height="11.30" fill="#6ba644"/>
<line x1="440.30" y1="241.90" x2="455.30" y2="241.90" stroke="#0d0d0d" stroke-width="1.5"/>
<line x1="465.30" y1="222.50" x2="465.30" y2="238.30" stroke="#151515" stroke-width="1.15"/>
<line x1="465.30" y1="245.80" x2="465.30" y2="248.30" stroke="#151515" stroke-width="1.15"/>
<line x1="461.20" y1="222.50" x2="469.40" y2="222.50" stroke="#151515" stroke-width="1.15"/>
<line x1="461.20" y1="248.30" x2="469.40" y2="248.30" stroke="#151515" stroke-width="1.15"/>
<rect x="457.80" y="238.30" width="15.00" height="7.50" fill="#6ba644"/>
<line x1="457.80" y1="240.90" x2="472.80" y2="240.90" stroke="#0d0d0d" stroke-width="1.5"/>
<line x1="482.60" y1="209.80" x2="482.60" y2="227.30" stroke="#151515" stroke-width="1.15"/>
<line x1="482.60" y1="238.80" x2="482.60" y2="241.20" stroke="#151515" stroke-width="1.15"/>
<line x1="478.50" y1="209.80" x2="486.70" y2="209.80" stroke="#151515" stroke-width="1.15"/>
<line x1="478.50" y1="241.20" x2="486.70" y2="241.20" stroke="#151515" stroke-width="1.15"/>
<rect x="475.10" y="227.30" width="15.00" height="11.50" fill="#6ba644"/>
<line x1="475.10" y1="232.80" x2="490.10" y2="232.80" stroke="#0d0d0d" stroke-width="1.5"/>
<line x1="499.90" y1="269.40" x2="499.90" y2="273.60" stroke="#151515" stroke-width="1.15"/>
<line x1="499.90" y1="277.60" x2="499.90" y2="280.20" stroke="#151515" stroke-width="1.15"/>
<line x1="495.80" y1="269.40" x2="504.00" y2="269.40" stroke="#151515" stroke-width="1.15"/>
<line x1="495.80" y1="280.20" x2="504.00" y2="280.20" stroke="#151515" stroke-width="1.15"/>
<rect x="492.40" y="273.60" width="15.00" height="4.00" fill="#6ba644"/>
<line x1="492.40" y1="275.40" x2="507.40" y2="275.40" stroke="#0d0d0d" stroke-width="1.5"/>
<text transform="translate(290.00,316.46) rotate(-90)" x="0" y="0" font-size="7.9" fill="#1a1a1a" textLength="25.93" lengthAdjust="spacingAndGlyphs">TAK242</text>
<text transform="translate(307.50,320.88) rotate(-90)" x="0" y="0" font-size="7.9" fill="#1a1a1a" textLength="30.35" lengthAdjust="spacingAndGlyphs">Ibrutinib</text>
<text transform="translate(320.20,337.26) rotate(-90)" x="0" y="0" font-size="7.9" fill="#1a1a1a" textLength="46.64" lengthAdjust="spacingAndGlyphs">TAK242+MCC</text>
<text transform="translate(329.70,337.48) rotate(-90)" x="0" y="0" font-size="7.9" fill="#1a1a1a" textLength="46.92" lengthAdjust="spacingAndGlyphs">950+Ibrutinib</text>
<text transform="translate(342.60,312.29) rotate(-90)" x="0" y="0" font-size="7.9" fill="#1a1a1a" textLength="21.74" lengthAdjust="spacingAndGlyphs">DMSO</text>
<text transform="translate(370.10,316.46) rotate(-90)" x="0" y="0" font-size="7.9" fill="#1a1a1a" textLength="25.93" lengthAdjust="spacingAndGlyphs">TAK242</text>
<text transform="translate(387.60,320.88) rotate(-90)" x="0" y="0" font-size="7.9" fill="#1a1a1a" textLength="30.35" lengthAdjust="spacingAndGlyphs">Ibrutinib</text>
<text transform="translate(400.20,337.26) rotate(-90)" x="0" y="0" font-size="7.9" fill="#1a1a1a" textLength="46.64" lengthAdjust="spacingAndGlyphs">TAK242+MCC</text>
<text transform="translate(409.70,337.48) rotate(-90)" x="0" y="0" font-size="7.9" fill="#1a1a1a" textLength="46.92" lengthAdjust="spacingAndGlyphs">950+Ibrutinib</text>
<text transform="translate(422.40,312.29) rotate(-90)" x="0" y="0" font-size="7.9" fill="#1a1a1a" textLength="21.74" lengthAdjust="spacingAndGlyphs">DMSO</text>
<text transform="translate(450.20,316.46) rotate(-90)" x="0" y="0" font-size="7.9" fill="#1a1a1a" textLength="25.93" lengthAdjust="spacingAndGlyphs">TAK242</text>
<text transform="translate(467.70,320.88) rotate(-90)" x="0" y="0" font-size="7.9" fill="#1a1a1a" textLength="30.35" lengthAdjust="spacingAndGlyphs">Ibrutinib</text>
<text transform="translate(480.30,337.26) rotate(-90)" x="0" y="0" font-size="7.9" fill="#1a1a1a" textLength="46.64" lengthAdjust="spacingAndGlyphs">TAK242+MCC</text>
<text transform="translate(489.80,337.48) rotate(-90)" x="0" y="0" font-size="7.9" fill="#1a1a1a" textLength="46.92" lengthAdjust="spacingAndGlyphs">950+Ibrutinib</text>
<text transform="translate(502.50,312.29) rotate(-90)" x="0" y="0" font-size="7.9" fill="#1a1a1a" textLength="21.74" lengthAdjust="spacingAndGlyphs">DMSO</text>
<text transform="translate(252.90,313.84) rotate(-90)" x="0" y="0" font-size="9.35" fill="#1a1a1a" textLength="125.86" lengthAdjust="spacingAndGlyphs">% inhibition caspase-1 activity</text>
<line x1="276.60" y1="347.90" x2="349.90" y2="347.90" stroke="#333" stroke-width="1.6"/>
<line x1="357.20" y1="347.90" x2="430.40" y2="347.90" stroke="#333" stroke-width="1.6"/>
<line x1="437.00" y1="347.90" x2="510.80" y2="347.90" stroke="#333" stroke-width="1.6"/>
<text x="300.44" y="357.90" font-size="8" fill="#1a1a1a" textLength="25.85" lengthAdjust="spacingAndGlyphs">Control</text>
<text x="389.36" y="357.90" font-size="8.7" fill="#1a1a1a" textLength="8.49" lengthAdjust="spacingAndGlyphs" style="stroke-width:0.12px">SS</text>
<text x="464.68" y="357.90" font-size="8" fill="#1a1a1a" textLength="17.92" lengthAdjust="spacingAndGlyphs">Crisis</text>
<rect x="0.5" y="0.5" width="519" height="364.5" fill="none" stroke="#000" stroke-width="1.2"/>
<line x1="0" y1="365" x2="520" y2="365" stroke="#111" stroke-width="1.6"/>
</svg>
</body></html>
